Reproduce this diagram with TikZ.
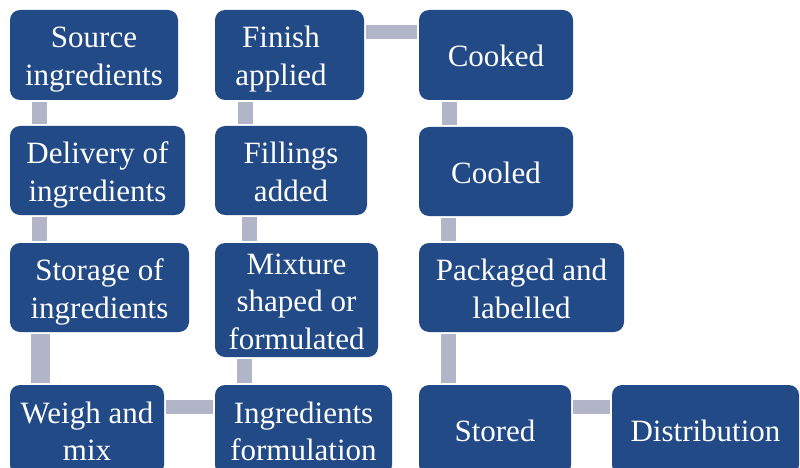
\documentclass[tikz,border=0pt]{standalone}
\usepackage{fontspec}
\setmainfont{Liberation Serif}
\usetikzlibrary{calc}
\definecolor{boxblue}{RGB}{34,74,135}
\definecolor{conngrey}{RGB}{178,181,200}
\newcommand\bst{\rule[-7pt]{0pt}{37.5pt}}
\tikzset{
  box/.style={fill=boxblue, rounded corners=10pt, inner sep=0pt, text=white,
    align=center, font=\fontsize{31}{37.5}\selectfont},
  conn/.style={draw=conngrey, line width=15pt, line cap=butt, shorten <=1.5pt, shorten >=1.5pt}
}
\begin{document}
\begin{tikzpicture}[x=1pt,y=-1pt]
\useasboundingbox (0,0) rectangle (800,468);
\clip (0,0) rectangle (800,468);
% column 1
\node[box, minimum width=168pt, minimum height=90pt] (src) at (94,55) {\bst Source\\\bst ingredients};
\node[box, minimum width=175pt, minimum height=89pt] (del) at (97.5,170.5) {\bst Delivery of\\\bst ingredients};
\node[box, minimum width=179pt, minimum height=89pt] (sto) at (99.5,287.5) {\bst Storage of\\\bst ingredients};
\node[box, minimum width=154pt, minimum height=90pt] (weigh) at (87,430) {\bst Weigh and\\\bst mix};
% column 2
\node[box, minimum width=177pt, minimum height=90pt] (ingf) at (303.5,430) {\bst Ingredients\\\bst formulation};
\node[box, minimum width=163pt, minimum height=114pt] (mix) at (296.5,300) {\bst Mixture\\\bst shaped or\\\bst formulated};
\node[box, minimum width=152pt, minimum height=89pt] (fill) at (291,170.5) {\bst Fillings\\\bst added};
\node[box, minimum width=149pt, minimum height=90pt] (fin) at (289.5,55) {\bst Finish\hspace*{17pt}\\\bst applied\hspace*{17pt}};
% column 3
\node[box, minimum width=154pt, minimum height=90pt] (cooked) at (496,55) {\bst Cooked};
\node[box, minimum width=154pt, minimum height=89pt] (cooled) at (496,171.5) {\bst Cooled};
\node[box, minimum width=205pt, minimum height=89pt] (pack) at (521.5,287.5) {\bst Packaged and\\\bst labelled};
\node[box, minimum width=152pt, minimum height=90pt] (stored) at (495,430) {\bst Stored};
\node[box, minimum width=187pt, minimum height=90pt] (dist) at (705.5,430) {\bst Distribution};
% connectors
\draw[conn] ($(src.south west)+(29.5,0)$) -- ($(del.north west)+(29.5,0)$);
\draw[conn] ($(del.south west)+(29.5,0)$) -- ($(sto.north west)+(29.5,0)$);
\draw[conn, line width=19pt] ($(sto.south west)+(30.5,0)$) -- ($(weigh.north west)+(30.5,0)$);
\draw[conn, line width=14pt] ($(weigh.north east)+(0,22)$) -- ($(ingf.north west)+(0,22)$);
\draw[conn] ($(ingf.north west)+(29.5,0)$) -- ($(mix.south west)+(29.5,0)$);
\draw[conn] ($(mix.north west)+(34.5,0)$) -- ($(fill.south west)+(34.5,0)$);
\draw[conn] ($(fill.north west)+(31,0)$) -- ($(fin.south west)+(31,0)$);
\draw[conn, line width=14pt] ($(fin.north east)+(0,22)$) -- ($(cooked.north west)+(0,22)$);
\draw[conn] ($(cooked.south west)+(30.5,0)$) -- ($(cooled.north west)+(30.5,0)$);
\draw[conn] ($(cooled.south west)+(29.5,0)$) -- ($(pack.north west)+(29.5,0)$);
\draw[conn] ($(pack.south west)+(29.5,0)$) -- ($(stored.north west)+(29.5,0)$);
\draw[conn, line width=14pt] ($(stored.north east)+(0,22)$) -- ($(dist.north west)+(0,22)$);
\end{tikzpicture}
\end{document}
